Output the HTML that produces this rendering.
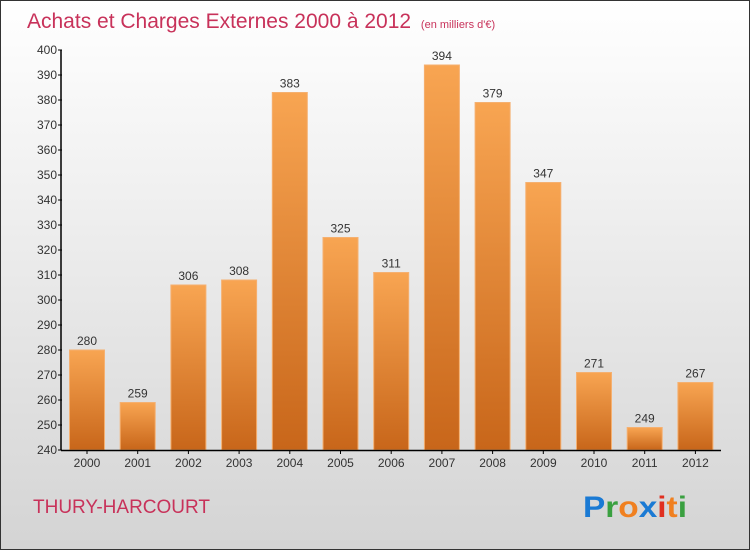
<!DOCTYPE html>
<html><head><meta charset="utf-8"><style>
body{margin:0}
#c{width:748px;height:548px;border:1px solid #333;background:linear-gradient(#ffffff,#d4d4d4);position:relative;font-family:"Liberation Sans",sans-serif;overflow:hidden}
</style></head><body>
<div id="c">
<svg width="748" height="548" id="s">
<defs><linearGradient id="g" x1="0" y1="0" x2="0" y2="1"><stop offset="0" stop-color="#f8a552"/><stop offset="1" stop-color="#c8661a"/></linearGradient></defs>
<text x="26" y="27" font-size="21" fill="#c8325a">Achats et Charges Externes 2000 à 2012 <tspan font-size="11" dx="4">(en milliers d'€)</tspan></text>
<text x="32" y="512" font-size="19" fill="#c8325a">THURY-HARCOURT</text>
<text x="582" y="516" font-size="30" font-weight="bold" textLength="104" lengthAdjust="spacingAndGlyphs"><tspan fill="#1a7ad4">P</tspan><tspan fill="#3aa040">r</tspan><tspan fill="#f08020">o</tspan><tspan fill="#1a7ad4">x</tspan><tspan fill="#e03020">i</tspan><tspan fill="#f08020">t</tspan><tspan fill="#3aa040">i</tspan></text>
</svg></div>
<script>
const categories=["2000","2001","2002","2003","2004","2005","2006","2007","2008","2009","2010","2011","2012"];
const values=[280,259,306,308,383,325,311,394,379,347,271,249,267];
const yTicks=[240,250,260,270,280,290,300,310,320,330,340,350,360,370,380,390,400];
const s=document.getElementById('s');const NS="http://www.w3.org/2000/svg";
const y=v=>449-(v-240)*2.5, x=i=>86+50.7*i;
function mk(t,a,txt){const e=document.createElementNS(NS,t);for(const k in a)e.setAttribute(k,a[k]);if(txt!=null)e.textContent=txt;s.appendChild(e);return e;}
values.forEach((v,i)=>{
 const r=mk('rect',{x:x(i)-17.5,y:y(v),width:35,height:y(240)-y(v),fill:'url(#g)',stroke:'#f5b070','stroke-width':1});
 
 
 const t=mk('text',{x:x(i),y:y(v)-5,'text-anchor':'middle','font-size':12,fill:'#333'},v);
 
 
 const c=mk('text',{x:x(i),y:466,'text-anchor':'middle','font-size':12,fill:'#333'},categories[i]);
 
 
 mk('line',{x1:x(i),x2:x(i),y1:449,y2:453,stroke:'#000'});
});
yTicks.forEach(v=>{
 mk('line',{x1:57,x2:61,y1:y(v),y2:y(v),stroke:'#000'});
 const t=mk('text',{x:56,y:y(v)+4,'text-anchor':'end','font-size':12,fill:'#333'},v);
 
 
});
const ya=mk('line',{x1:60,x2:60,y1:y(400),y2:449,stroke:'#000','stroke-width':1.5});


const xa=mk('line',{x1:60,x2:720,y1:449.5,y2:449.5,stroke:'#000','stroke-width':1.5});


</script>
</body></html>
